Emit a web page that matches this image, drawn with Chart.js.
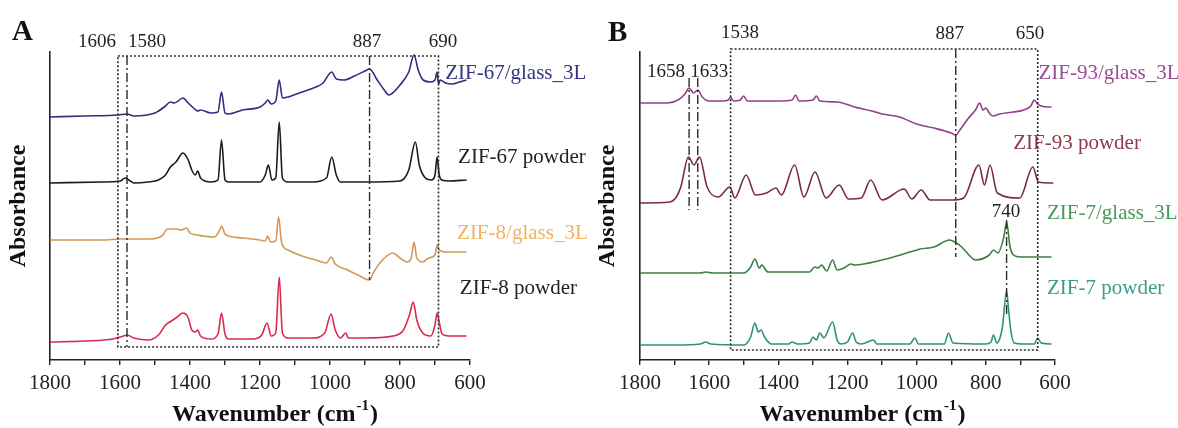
<!DOCTYPE html>
<html>
<head>
<meta charset="utf-8">
<script src="https://cdn.jsdelivr.net/npm/chart.js@4.4.1/dist/chart.umd.min.js"></script>
<style>
  html, body { margin: 0; padding: 0; background: #fff; }
  #wrap { position: relative; width: 1178px; height: 428px; }
  .panel { position: absolute; top: 0; width: 589px; height: 428px; }
</style>
</head>
<body>
<div id="wrap">
  <div class="panel" style="left:0"><canvas id="chartA"></canvas></div>
  <div class="panel" style="left:589px"><canvas id="chartB"></canvas></div>
</div>
<script>
// Spectra: [wavenumber (cm-1), stacked absorbance (a.u.)]
const zif67Glass = [[1800,2.43],[1700,2.44],[1606,2.45],[1580,2.46],[1560,2.44],[1500,2.47],[1490,2.49],[1470,2.54],[1456,2.58],[1445,2.57],[1420,2.62],[1405,2.57],[1390,2.52],[1378,2.49],[1370,2.50],[1340,2.47],[1320,2.48],[1310,2.68],[1300,2.47],[1290,2.46],[1250,2.50],[1200,2.53],[1185,2.57],[1178,2.60],[1168,2.56],[1155,2.59],[1145,2.80],[1136,2.62],[1120,2.63],[1080,2.68],[1040,2.73],[1020,2.77],[995,2.88],[982,2.81],[960,2.80],[930,2.84],[900,2.89],[887,2.91],[865,2.80],[845,2.70],[832,2.65],[800,2.75],[775,2.88],[760,3.05],[748,2.90],[734,2.80],[712,2.78],[700,2.80],[694,2.88],[690,2.76],[685,2.80],[670,2.77],[650,2.76],[630,2.78],[610,2.80]];
const zif67Powder = [[1800,1.77],[1650,1.78],[1600,1.79],[1585,1.82],[1575,1.80],[1560,1.77],[1520,1.78],[1490,1.80],[1470,1.85],[1456,1.93],[1440,1.98],[1420,2.07],[1405,2.00],[1395,1.90],[1385,1.85],[1378,1.89],[1370,1.82],[1340,1.78],[1320,1.80],[1310,2.20],[1300,1.80],[1290,1.78],[1200,1.78],[1185,1.85],[1176,1.95],[1166,1.80],[1155,1.82],[1145,2.38],[1136,1.82],[1120,1.78],[1050,1.78],[1010,1.82],[995,2.03],[982,1.85],[970,1.78],[900,1.78],[800,1.79],[775,1.90],[756,2.18],[745,1.95],[730,1.83],[710,1.80],[700,1.85],[694,2.03],[688,1.85],[680,1.80],[660,1.79],[610,1.80]];
const zif8Glass = [[1800,1.20],[1650,1.20],[1600,1.21],[1520,1.21],[1480,1.24],[1465,1.31],[1440,1.31],[1425,1.30],[1410,1.32],[1400,1.27],[1380,1.25],[1330,1.23],[1315,1.30],[1310,1.34],[1300,1.26],[1290,1.24],[1250,1.22],[1200,1.20],[1185,1.19],[1178,1.24],[1170,1.18],[1155,1.19],[1147,1.43],[1138,1.17],[1120,1.10],[1080,1.04],[1040,1.00],[1010,0.97],[997,1.03],[985,0.96],[950,0.90],[920,0.85],[887,0.80],[875,0.88],[850,1.00],[820,1.07],[800,1.02],[780,0.98],[768,1.02],[760,1.18],[752,1.02],[735,0.98],[718,1.02],[700,1.05],[694,1.15],[688,1.10],[670,1.08],[650,1.08],[610,1.08]];
const zif8Powder = [[1800,0.18],[1700,0.19],[1620,0.21],[1590,0.24],[1580,0.25],[1560,0.22],[1520,0.20],[1490,0.25],[1470,0.35],[1458,0.38],[1440,0.42],[1420,0.47],[1405,0.42],[1395,0.30],[1385,0.28],[1378,0.30],[1370,0.24],[1340,0.21],[1320,0.26],[1310,0.47],[1300,0.26],[1290,0.21],[1220,0.21],[1195,0.25],[1180,0.37],[1168,0.24],[1155,0.27],[1145,0.83],[1136,0.27],[1120,0.22],[1050,0.22],[1015,0.27],[997,0.46],[985,0.30],[970,0.22],[955,0.27],[948,0.22],[900,0.22],[820,0.24],[790,0.30],[773,0.45],[762,0.58],[752,0.40],[735,0.27],[712,0.24],[700,0.35],[694,0.47],[688,0.38],[680,0.26],[660,0.24],[610,0.24]];

const zif93Glass = [[1800,2.57],[1720,2.57],[1690,2.60],[1670,2.66],[1658,2.72],[1645,2.67],[1633,2.70],[1620,2.63],[1600,2.59],[1560,2.59],[1545,2.60],[1538,2.63],[1530,2.59],[1510,2.60],[1500,2.64],[1490,2.59],[1400,2.59],[1360,2.60],[1350,2.65],[1340,2.59],[1300,2.60],[1290,2.64],[1280,2.59],[1230,2.58],[1180,2.53],[1130,2.49],[1100,2.46],[1050,2.43],[1000,2.36],[950,2.32],[900,2.27],[887,2.25],[875,2.30],[850,2.42],[830,2.50],[818,2.57],[808,2.50],[800,2.52],[792,2.48],[780,2.44],[760,2.46],[720,2.48],[690,2.50],[670,2.54],[660,2.60],[650,2.56],[640,2.54],[620,2.53],[610,2.53]];
const zif93Powder = [[1800,1.57],[1714,1.58],[1695,1.63],[1682,1.73],[1660,2.03],[1644,1.95],[1628,2.03],[1606,1.73],[1574,1.63],[1540,1.73],[1526,1.62],[1493,1.85],[1466,1.65],[1434,1.67],[1407,1.72],[1391,1.65],[1353,1.95],[1326,1.63],[1294,1.88],[1262,1.62],[1224,1.75],[1197,1.61],[1160,1.62],[1133,1.80],[1100,1.60],[1036,1.71],[1014,1.61],[987,1.70],[961,1.60],[896,1.60],[864,1.62],[820,1.95],[804,1.75],[788,1.95],[767,1.67],[702,1.62],[664,1.93],[648,1.78],[605,1.77]];
const zif7Glass = [[1800,0.87],[1700,0.87],[1625,0.87],[1610,0.88],[1590,0.87],[1500,0.87],[1480,0.93],[1468,1.01],[1455,0.92],[1448,0.95],[1430,0.88],[1350,0.88],[1310,0.88],[1295,0.93],[1285,0.92],[1275,0.95],[1260,0.89],[1243,1.00],[1230,0.90],[1210,0.92],[1190,0.96],[1180,0.95],[1100,1.00],[1000,1.10],[990,1.11],[950,1.13],[905,1.20],[890,1.18],[870,1.13],[840,1.02],[830,1.00],[790,1.05],[778,1.10],[765,1.07],[748,1.23],[740,1.38],[730,1.13],[720,1.05],[700,1.03],[650,1.03],[610,1.03]];
const zif7Powder = [[1800,0.15],[1700,0.15],[1625,0.16],[1610,0.18],[1595,0.16],[1500,0.15],[1480,0.23],[1468,0.37],[1458,0.28],[1450,0.30],[1440,0.23],[1420,0.16],[1370,0.16],[1360,0.18],[1345,0.16],[1310,0.17],[1300,0.23],[1290,0.20],[1280,0.27],[1268,0.22],[1262,0.25],[1243,0.38],[1230,0.20],[1220,0.16],[1200,0.18],[1185,0.27],[1175,0.18],[1160,0.16],[1125,0.20],[1115,0.16],[1020,0.16],[1005,0.22],[995,0.16],[920,0.16],[908,0.27],[895,0.17],[800,0.16],[785,0.18],[778,0.25],[768,0.17],[752,0.33],[740,0.69],[735,0.53],[728,0.30],[718,0.17],[690,0.16],[660,0.16],[650,0.22],[640,0.17],[610,0.16]];

const SERIF = '"Liberation Serif", "Times New Roman", serif';
const INK = '#222';

// Draws the panel letter, boxes, guide lines, peak numbers, series names and x title
const decorPlugin = {
  id: 'decor',
  afterDraw(chart, args, opts) {
    const ctx = chart.ctx;
    const px = v => chart.scales.x.getPixelForValue(v);
    const py = v => chart.scales.y.getPixelForValue(v);
    const area = chart.chartArea;
    ctx.save();

    // dotted region box
    ctx.strokeStyle = '#2a2a2a';
    ctx.lineWidth = 1.6;
    ctx.setLineDash([2, 2]);
    const b = opts.box;
    ctx.strokeRect(px(b.from), py(b.top), px(b.to) - px(b.from), py(b.bottom) - py(b.top));

    // dash-dot guide lines
    ctx.setLineDash([9, 3, 2, 3]);
    ctx.lineWidth = 1.4;
    opts.guides.forEach(g => {
      ctx.beginPath();
      ctx.moveTo(px(g.x), py(g.top));
      ctx.lineTo(px(g.x), py(g.bottom));
      ctx.stroke();
    });
    ctx.setLineDash([]);

    // peak positions
    ctx.fillStyle = INK;
    ctx.font = '19px ' + SERIF;
    ctx.textAlign = 'center';
    ctx.textBaseline = 'middle';
    opts.numbers.forEach(n => ctx.fillText(n.text, px(n.x), py(n.y)));

    // series names
    ctx.font = '21px ' + SERIF;
    ctx.textAlign = 'left';
    opts.names.forEach(n => {
      ctx.fillStyle = n.color;
      ctx.fillText(n.text, px(n.x), py(n.y));
    });

    // panel letter
    ctx.fillStyle = '#111';
    ctx.font = 'bold 29px ' + SERIF;
    ctx.textBaseline = 'alphabetic';
    ctx.fillText(opts.letter.text, opts.letter.x, opts.letter.y);

    // x title with superscript
    const big = 'bold 24px ' + SERIF, small = 'bold 15px ' + SERIF;
    ctx.font = big;
    const w1 = ctx.measureText('Wavenumber (cm').width;
    const w3 = ctx.measureText(')').width;
    ctx.font = small;
    const w2 = ctx.measureText('-1').width + 2;
    let x = (area.left + area.right) / 2 + opts.titleShift - (w1 + w2 + w3) / 2;
    const yBase = 421;
    ctx.fillStyle = '#111';
    ctx.font = big;
    ctx.fillText('Wavenumber (cm', x, yBase);
    ctx.font = small;
    ctx.fillText('-1', x + w1 + 1, yBase - 11);
    ctx.font = big;
    ctx.fillText(')', x + w1 + w2, yBase);
    ctx.restore();
  }
};

function makeSet(points, color) {
  return {
    data: points.map(p => ({ x: p[0], y: p[1] })),
    borderColor: color,
    borderWidth: 1.6,
    pointRadius: 0,
    fill: false,
    cubicInterpolationMode: 'monotone'
  };
}

function makeChart(id, sets, rightPad, axisWidth, decor) {
  return new Chart(document.getElementById(id), {
    type: 'line',
    data: { datasets: sets },
    plugins: [decorPlugin],
    options: {
      responsive: true,
      maintainAspectRatio: false,
      animation: false,
      layout: { padding: { left: 0, right: rightPad, top: 52, bottom: 0 } },
      plugins: { legend: { display: false }, tooltip: { enabled: false }, decor: decor },
      scales: {
        x: {
          type: 'linear',
          reverse: true,
          min: 600,
          max: 1800,
          afterFit: s => { s.height = 68; },
          grid: { drawOnChartArea: false, drawTicks: true, tickLength: 5, color: INK, lineWidth: 1.4 },
          border: { display: true, color: INK, width: 1.6 },
          ticks: {
            stepSize: 100,
            autoSkip: false,
            maxRotation: 0,
            padding: 6,
            color: INK,
            font: { family: SERIF, size: 21 },
            callback: v => (v % 200 === 0 ? String(v) : '')
          }
        },
        y: {
          min: 0,
          max: 3.08,
          afterFit: s => { s.width = axisWidth; },
          grid: { drawOnChartArea: false, drawTicks: false },
          border: { display: true, color: INK, width: 1.6 },
          ticks: { display: false },
          title: { display: true, text: 'Absorbance', color: '#111', font: { family: SERIF, size: 24, weight: 'bold' } }
        }
      }
    }
  });
}

makeChart('chartA', [
  makeSet(zif67Glass, '#2d2f7e'),
  makeSet(zif67Powder, '#1c1c1c'),
  makeSet(zif8Glass, '#d39858'),
  makeSet(zif8Powder, '#db2a4c')
], 119, 50, {
  letter: { text: 'A', x: 12, y: 40 },
  titleShift: 15,
  box: { from: 1606, to: 690, top: 3.04, bottom: 0.13 },
  guides: [{ x: 1580, top: 3.04, bottom: 0.13 }, { x: 887, top: 3.04, bottom: 0.80 }],
  numbers: [
    { text: '1606', x: 1666, y: 3.18 }, { text: '1580', x: 1523, y: 3.18 },
    { text: '887', x: 894, y: 3.18 }, { text: '690', x: 677, y: 3.18 }
  ],
  names: [
    { text: 'ZIF-67/glass_3L', x: 671, y: 2.87, color: '#34357d' },
    { text: 'ZIF-67 powder', x: 634, y: 2.03, color: INK },
    { text: 'ZIF-8/glass_3L', x: 637, y: 1.27, color: '#f1b35f' },
    { text: 'ZIF-8 powder', x: 629, y: 0.72, color: INK }
  ]
});

makeChart('chartB', [
  makeSet(zif93Glass, '#8f408d'),
  makeSet(zif93Powder, '#7a2c3c'),
  makeSet(zif7Glass, '#3b8046'),
  makeSet(zif7Powder, '#2f9082')
], 123, 51, {
  letter: { text: 'B', x: 19, y: 41 },
  titleShift: 15,
  box: { from: 1538, to: 650, top: 3.11, bottom: 0.10 },
  guides: [
    { x: 887, top: 3.11, bottom: 1.03 },
    { x: 1658, top: 2.82, bottom: 1.50 }, { x: 1633, top: 2.82, bottom: 1.50 },
    { x: 740, top: 1.40, bottom: 0.45 }
  ],
  numbers: [
    { text: '1538', x: 1511, y: 3.27 }, { text: '887', x: 904, y: 3.26 }, { text: '650', x: 672, y: 3.26 },
    { text: '1658', x: 1725, y: 2.88 }, { text: '1633', x: 1600, y: 2.88 }, { text: '740', x: 742, y: 1.48 }
  ],
  names: [
    { text: 'ZIF-93/glass_3L', x: 648, y: 2.87, color: '#9a4c92' },
    { text: 'ZIF-93 powder', x: 721, y: 2.17, color: '#8c3a44' },
    { text: 'ZIF-7/glass_3L', x: 623, y: 1.47, color: '#489a58' },
    { text: 'ZIF-7 powder', x: 623, y: 0.72, color: '#3c9c8c' }
  ]
});
</script>
</body>
</html>
